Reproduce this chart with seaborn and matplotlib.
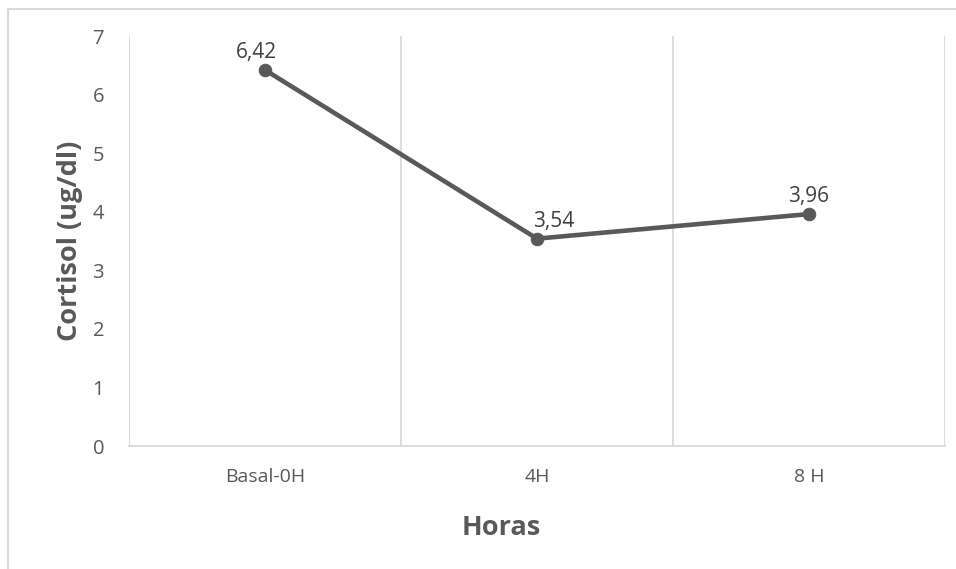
import matplotlib
matplotlib.use("Agg")
import matplotlib.pyplot as plt
import seaborn as sns
import pandas as pd
from matplotlib.patches import Rectangle

# Cortisol levels over time
horas = ["Basal-0H", "4H", "8 H"]
cortisol = [6.42, 3.54, 3.96]
etiquetas = ["6,42", "3,54", "3,96"]

sns.set_theme(style="white")
plt.rcParams["font.family"] = ["Open Sans", "DejaVu Sans"]

df = pd.DataFrame({"Horas": horas, "Cortisol": cortisol})

fig = plt.figure(figsize=(9.56, 5.69), dpi=100)
ax = fig.add_axes([129 / 956, 1 - 446 / 569, (945 - 129) / 956, (446 - 36) / 569])

# chart frame
fig.patches.append(Rectangle((8 / 956, -0.05), 1.0, 1 - 9 / 569 + 0.05,
                             transform=fig.transFigure, fill=False,
                             edgecolor="#d9d9d9", linewidth=1.5))

line_color = "#595959"
sns.lineplot(data=df, x="Horas", y="Cortisol", ax=ax, color=line_color,
             linewidth=3.3, marker="o", markersize=9,
             markeredgecolor=line_color, markerfacecolor=line_color, sort=False)

ax.set_xlim(-0.5, 2.5)
ax.set_ylim(0, 7)
ax.set_yticks(range(0, 8))
ax.set_xticks(range(len(horas)))
ax.set_xticklabels(horas)

# category boundaries as vertical gridlines
ax.set_xticks([-0.5, 0.5, 1.5, 2.5], minor=True)
ax.grid(axis="x", which="minor", color="#d9d9d9", linewidth=1.3)
ax.grid(axis="x", which="major", visible=False)
ax.grid(axis="y", visible=False)

for s in ["top", "right", "left"]:
    ax.spines[s].set_visible(False)
ax.spines["bottom"].set_color("#d9d9d9")
ax.spines["bottom"].set_linewidth(1.3)

ax.tick_params(axis="y", length=0, pad=18, labelsize=14.5, labelcolor="#595959")
ax.tick_params(axis="x", which="major", length=0, pad=16, labelsize=14, labelcolor="#595959")
ax.tick_params(axis="x", which="minor", length=0)

ax.set_xlabel("Horas", fontsize=19.5, fontweight="bold", color="#595959", labelpad=21)
ax.xaxis.label.set_x(0.456)
ax.set_ylabel("Cortisol (ug/dl)", fontsize=19.5, fontweight="bold", color="#595959", labelpad=7)

offsets = [(-6, 5), (12, 5), (0, 5)]
for i, (v, t) in enumerate(zip(cortisol, etiquetas)):
    ax.annotate(t, (i, v), xytext=offsets[i], textcoords="offset points",
                ha="center", va="bottom", fontsize=15, color="#404040")

fig.savefig("out.png", dpi=100)
